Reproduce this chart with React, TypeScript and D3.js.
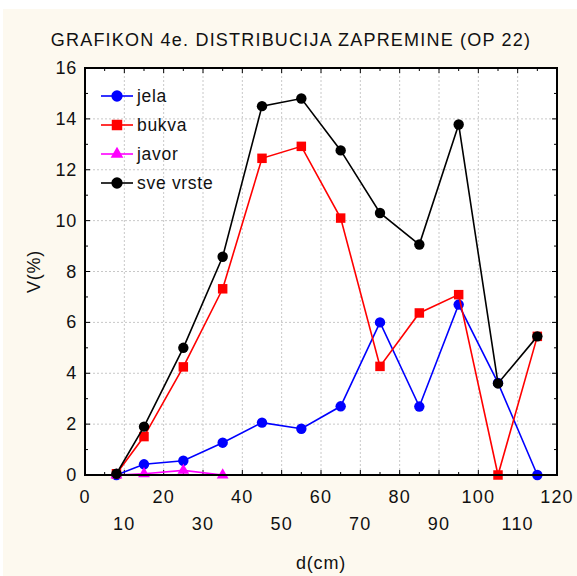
import { useEffect, useRef } from 'react'
import * as d3 from 'd3'

// podaci očitani sa grafikona: debljinski stepeni (cm) i V(%) po vrstama
const xJela = [8, 15, 25, 35, 45, 55, 65, 75, 85, 95, 105, 115]
const jela = [0, 0.42, 0.56, 1.27, 2.06, 1.82, 2.7, 6.0, 2.69, 6.7, 3.62, 0]
const bukva = [0.05, 1.51, 4.25, 7.32, 12.45, 12.92, 10.1, 4.27, 6.37, 7.09, 0, 5.45]
const sveVrste = [0.05, 1.9, 5.0, 8.58, 14.5, 14.8, 12.76, 10.3, 9.06, 13.78, 3.6, 5.45]
const xJavor = [8, 15, 25, 35]
const javor = [0, 0.05, 0.18, 0]

const xTicks = [0, 10, 20, 30, 40, 50, 60, 70, 80, 90, 100, 110, 120]
const yTicks = [0, 2, 4, 6, 8, 10, 12, 14, 16]

const SERIES = [
  { name: 'jela', xs: xJela, ys: jela, color: '#0000ff', symbol: d3.symbolCircle },
  { name: 'bukva', xs: xJela, ys: bukva, color: '#ff0000', symbol: d3.symbolSquare },
  { name: 'javor', xs: xJavor, ys: javor, color: '#ff00ff', symbol: d3.symbolTriangle },
  { name: 'sve vrste', xs: xJela, ys: sveVrste, color: '#000000', symbol: d3.symbolCircle },
]

export default function App() {
  const ref = useRef<SVGSVGElement>(null)

  useEffect(() => {
    const W = 577, H = 576
    const M = { top: 68, right: 20, bottom: 101, left: 85 }
    const iw = W - M.left - M.right
    const ih = H - M.top - M.bottom
    const font = 'Liberation Sans, Arial, sans-serif'

    const svg = d3.select(ref.current)
    svg.selectAll('*').remove()
    svg.attr('width', W).attr('height', H)

    svg.append('rect').attr('width', W).attr('height', H).attr('fill', '#ffffff')
    svg.append('rect').attr('x', 3).attr('y', 9).attr('width', W - 3).attr('height', H - 9).attr('fill', '#fdf9ef')

    svg.append('text').attr('x', 291).attr('y', 46).attr('text-anchor', 'middle')
      .attr('font-family', font).attr('font-size', 18).attr('letter-spacing', 1.2).attr('fill', '#111')
      .text('GRAFIKON 4e. DISTRIBUCIJA ZAPREMINE (OP 22)')

    const x = d3.scaleLinear().domain([0, 120]).range([0, iw])
    const y = d3.scaleLinear().domain([0, 16]).range([ih, 0])

    const g = svg.append('g').attr('transform', `translate(${M.left},${M.top})`)
    g.append('rect').attr('width', iw).attr('height', ih).attr('fill', '#ffffff')

    // mreža
    g.append('g').selectAll('line').data(xTicks.slice(1, -1)).join('line')
      .attr('x1', d => x(d)).attr('x2', d => x(d)).attr('y1', 0).attr('y2', ih)
      .attr('stroke', '#c8c8c8').attr('stroke-dasharray', '2,2')
    g.append('g').selectAll('line').data(yTicks.slice(1, -1)).join('line')
      .attr('y1', d => y(d)).attr('y2', d => y(d)).attr('x1', 0).attr('x2', iw)
      .attr('stroke', '#c8c8c8').attr('stroke-dasharray', '2,2')

    // unutrašnji tikovi na sve četiri strane
    const yMinor = d3.range(0, 17, 1)
    const xMinor = d3.range(0, 121, 5)
    const ticks = g.append('g').attr('stroke', '#000').attr('stroke-width', 1)
    yMinor.forEach(v => {
      const len = v % 2 === 0 ? 5 : 3
      ticks.append('line').attr('x1', 0).attr('x2', len).attr('y1', y(v)).attr('y2', y(v))
      ticks.append('line').attr('x1', iw).attr('x2', iw - len).attr('y1', y(v)).attr('y2', y(v))
    })
    xMinor.forEach(v => {
      const len = v % 10 === 0 ? 5 : 3
      ticks.append('line').attr('x1', x(v)).attr('x2', x(v)).attr('y1', ih).attr('y2', ih - len)
      ticks.append('line').attr('x1', x(v)).attr('x2', x(v)).attr('y1', 0).attr('y2', len)
    })

    // serije
    const line = d3.line<[number, number]>().x(d => x(d[0])).y(d => y(d[1]))
    SERIES.forEach(s => {
      const pts: [number, number][] = s.xs.map((xv, i) => [xv, s.ys[i]])
      g.append('path').datum(pts).attr('fill', 'none').attr('stroke', s.color)
        .attr('stroke-width', 1.6).attr('d', line)
      const sym = d3.symbol().type(s.symbol).size(s.symbol === d3.symbolSquare ? 90 : s.symbol === d3.symbolTriangle ? 60 : 85)
      g.append('g').selectAll('path').data(pts).join('path')
        .attr('transform', d => `translate(${x(d[0])},${y(d[1])})`)
        .attr('d', sym()).attr('fill', s.color)
    })

    g.append('rect').attr('width', iw).attr('height', ih).attr('fill', 'none')
      .attr('stroke', '#000').attr('stroke-width', 2)

    // oznake osa
    g.append('g').selectAll('text').data(yTicks).join('text')
      .attr('x', -8).attr('y', d => y(d) + 6).attr('text-anchor', 'end')
      .attr('font-family', font).attr('font-size', 18).attr('letter-spacing', 0.8).attr('fill', '#111')
      .text(d => d)
    g.append('g').selectAll('text').data(xTicks).join('text')
      .attr('x', d => x(d)).attr('y', d => ih + (d % 20 === 0 ? 28 : 55))
      .attr('text-anchor', 'middle')
      .attr('font-family', font).attr('font-size', 18).attr('letter-spacing', 1.2).attr('fill', '#111')
      .text(d => d)

    svg.append('text').attr('x', M.left + iw / 2).attr('y', 569).attr('text-anchor', 'middle')
      .attr('font-family', font).attr('font-size', 18).attr('letter-spacing', 0.8).attr('fill', '#111').text('d(cm)')
    svg.append('text').attr('transform', `translate(40,${M.top + ih / 2}) rotate(-90)`)
      .attr('text-anchor', 'middle')
      .attr('font-family', font).attr('font-size', 18).attr('letter-spacing', 0.8).attr('fill', '#111').text('V(%)')

    // legenda
    const leg = g.append('g').attr('transform', 'translate(16,28)')
    SERIES.forEach((s, i) => {
      const row = leg.append('g').attr('transform', `translate(0,${i * 29})`)
      row.append('line').attr('x1', 0).attr('x2', 32).attr('stroke', s.color).attr('stroke-width', 1.6)
      const sym = d3.symbol().type(s.symbol).size(s.symbol === d3.symbolSquare ? 110 : s.symbol === d3.symbolTriangle ? 70 : 100)
      row.append('path').attr('transform', 'translate(16,0)').attr('d', sym()).attr('fill', s.color)
      row.append('text').attr('x', 36).attr('y', 6).attr('font-family', font)
        .attr('font-size', 17.5).attr('fill', '#111').attr('letter-spacing', 0.7).text(s.name)
    })
  }, [])

  return (
    <div style={{ position: 'absolute', left: 0, top: 0 }}>
      <svg ref={ref} style={{ display: 'block' }} />
    </div>
  )
}
